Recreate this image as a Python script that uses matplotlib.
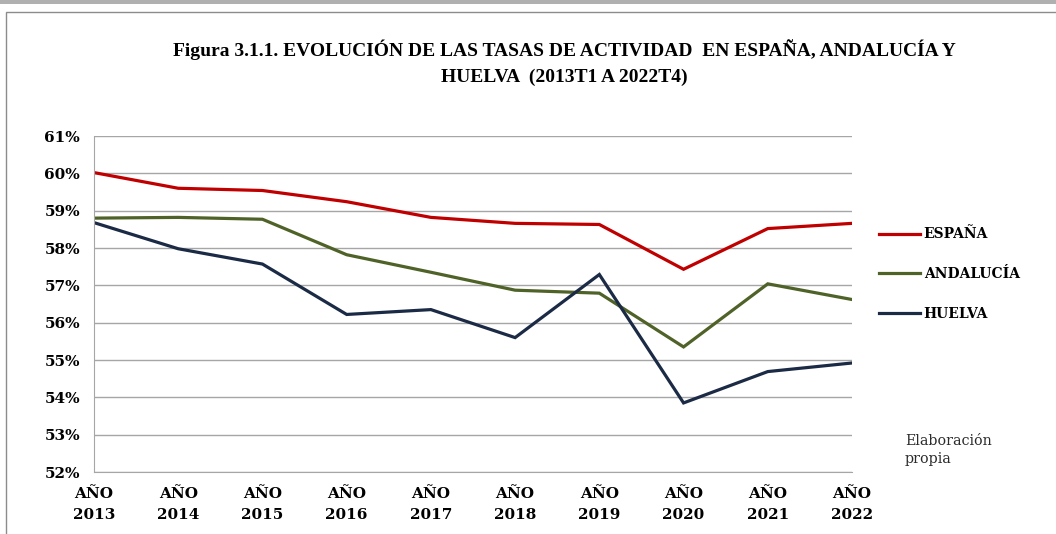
import matplotlib.pyplot as plt
from matplotlib.patches import Rectangle
from matplotlib.ticker import FuncFormatter

years = ["AÑO\n2013", "AÑO\n2014", "AÑO\n2015", "AÑO\n2016", "AÑO\n2017",
         "AÑO\n2018", "AÑO\n2019", "AÑO\n2020", "AÑO\n2021", "AÑO\n2022"]
espana = [60.02, 59.60, 59.54, 59.24, 58.82, 58.66, 58.63, 57.43, 58.52, 58.66]
andalucia = [58.80, 58.82, 58.77, 57.82, 57.35, 56.87, 56.79, 55.35, 57.04, 56.62]
huelva = [58.68, 57.98, 57.57, 56.22, 56.35, 55.60, 57.29, 53.85, 54.69, 54.92]

series = [("ESPAÑA", espana, "#C00000"),
          ("ANDALUCÍA", andalucia, "#4F6228"),
          ("HUELVA", huelva, "#1B2A45")]

serif = ["Liberation Serif", "DejaVu Serif"]
wide = ["DejaVu Serif"]

fig = plt.figure(figsize=(10.56, 5.34), dpi=100)
ax = fig.add_axes([94 / 1056, 1 - 472 / 534, (852 - 94) / 1056, (472 - 136) / 534])

x = list(range(len(years)))
for name, vals, col in series:
    ax.plot(x, vals, color=col, lw=2.3, label=name, solid_joinstyle="miter")

ax.set_xlim(0, len(years) - 1)
ax.set_ylim(52, 61)
ax.set_yticks(range(52, 62))
ax.yaxis.set_major_formatter(FuncFormatter(lambda v, p: f"{v:.0f}%"))
ax.set_xticks(x)
ax.set_xticklabels(years, linespacing=1.6)
ax.grid(axis="y", color="#a6a6a6", lw=1)
ax.set_axisbelow(True)
for s in ["top", "right"]:
    ax.spines[s].set_visible(False)
for s in ["left", "bottom"]:
    ax.spines[s].set_color("#a6a6a6")
ax.tick_params(axis="y", length=0, pad=10)
ax.tick_params(axis="x", length=0, pad=11)
for lab in ax.get_xticklabels() + ax.get_yticklabels():
    lab.set_family(wide)
    lab.set_fontweight("bold")
    lab.set_fontsize(11)

fig.text(0.534, 1 - 50 / 534, "Figura 3.1.1. EVOLUCIÓN DE LAS TASAS DE ACTIVIDAD  EN ESPAÑA, ANDALUCÍA Y",
         ha="center", va="center", family=serif, fontweight="bold", fontsize=14)
fig.text(0.534, 1 - 77 / 534, "HUELVA  (2013T1 A 2022T4)",
         ha="center", va="center", family=serif, fontweight="bold", fontsize=14)

leg = fig.legend(loc="upper left", bbox_to_anchor=(866 / 1056, 1 - 215 / 534), frameon=False,
                 handlelength=3.0, handletextpad=0.25, labelspacing=1.85,
                 prop={"family": wide, "weight": "bold", "size": 10})

fig.text(905 / 1056, 1 - 450 / 534, "Elaboración\npropia", ha="left", va="center",
         family=wide, fontsize=10.3, color="#2b2b2b", linespacing=1.3)

# frame around the chart area
fig.add_artist(Rectangle((6 / 1056, -0.05), 1.1, 1 - 12 / 534 + 0.05, transform=fig.transFigure,
                         fill=False, ec="#8c8c8c", lw=1))
fig.add_artist(Rectangle((0, 1 - 4 / 534), 1, 4 / 534, transform=fig.transFigure,
                         fc="#b0b0b0", ec="none"))

fig.savefig("out.png", dpi=100)
